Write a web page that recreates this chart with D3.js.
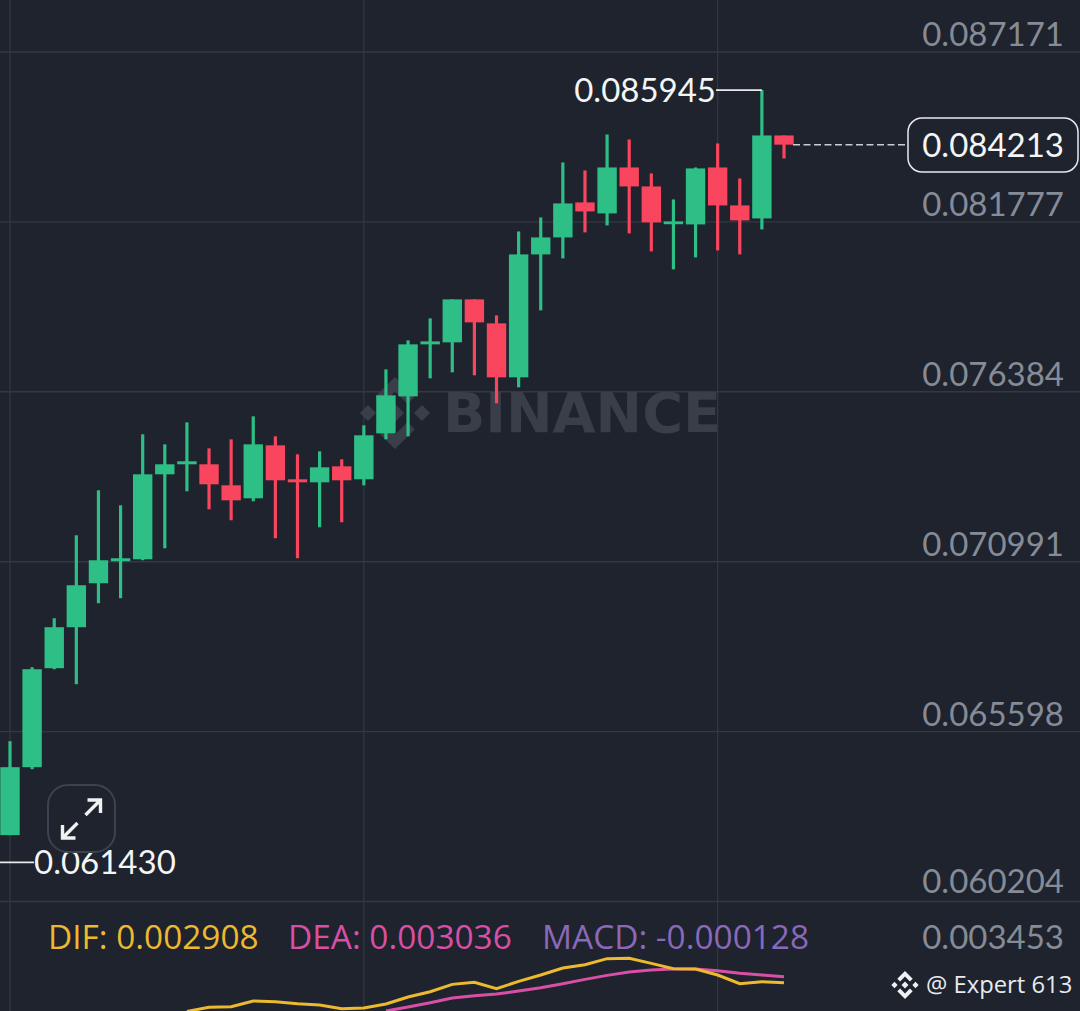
<!DOCTYPE html>
<html>
<head>
<meta charset="utf-8">
<script src="https://cdn.jsdelivr.net/npm/d3@7/dist/d3.min.js"></script>
<style>
	html, body { margin: 0; padding: 0; background: #1e232d; overflow: hidden; }
	svg { display: block; }
	text { font-family: "Lato", sans-serif; }
</style>
</head>
<body>
<svg id="chart" width="1080" height="1011"></svg>
<script>
// candles
const opens = [0.062295,0.064452,0.067594,0.068895,0.070291,0.070989,0.071052,0.073749,0.074067,0.074067,0.073400,0.072988,0.074669,0.073591,0.073495,0.074003,0.073591,0.075050,0.076224,0.077874,0.077938,0.079302,0.078541,0.076827,0.080730,0.081269,0.082380,0.082031,0.083490,0.082888,0.081714,0.081682,0.083490,0.082285,0.081872,0.084506];
const closes = [0.064452,0.067562,0.068895,0.070227,0.071021,0.071084,0.073749,0.074067,0.074162,0.073432,0.072924,0.074701,0.073559,0.073495,0.073971,0.073559,0.074987,0.076256,0.077874,0.077969,0.079302,0.078572,0.076827,0.080730,0.081269,0.082348,0.082094,0.083490,0.082888,0.081745,0.081777,0.083459,0.082285,0.081809,0.084506,0.084213];
const highs = [0.065277,0.067625,0.069180,0.071814,0.073242,0.072766,0.075019,0.074701,0.075399,0.074574,0.074860,0.075590,0.074955,0.074384,0.074479,0.074225,0.075304,0.077081,0.078001,0.078699,0.079302,0.079302,0.078794,0.081460,0.081904,0.083649,0.083395,0.084538,0.084379,0.083300,0.082475,0.083490,0.084252,0.083141,0.085945,0.084506];
const lows = [0.062295,0.064389,0.067562,0.067086,0.069656,0.069815,0.071021,0.071401,0.073210,0.072639,0.072290,0.072893,0.071719,0.071084,0.072068,0.072226,0.073400,0.074860,0.074955,0.076795,0.076986,0.076891,0.076002,0.076510,0.078953,0.080603,0.081428,0.081650,0.081396,0.080825,0.080254,0.080635,0.080857,0.080730,0.081523,0.083776];

// macd lines, dif starts at candle 8 and dea at candle 17
const difValues = [0.002297,0.002382,0.002396,0.002517,0.002503,0.002460,0.002432,0.002353,0.002368,0.002453,0.002602,0.002716,0.002872,0.002915,0.002780,0.002936,0.003072,0.003221,0.003292,0.003420,0.003427,0.003320,0.003207,0.003200,0.003072,0.002887,0.002929,0.002908];
const deaValues = [0.002304,0.002389,0.002481,0.002581,0.002631,0.002666,0.002730,0.002801,0.002887,0.002979,0.003064,0.003136,0.003178,0.003200,0.003200,0.003164,0.003107,0.003072,0.003036];

const priceTicks = [0.087171,0.081777,0.076384,0.070991,0.065598,0.060204];
const gridCandles = [0,16,32];
const lastPrice = 0.084213;
const highPrice = 0.085945;
const lowPrice = 0.061430;
const legendNames = ["DIF: 0.002908","DEA: 0.003036","MACD: -0.000128"];
const legendColors = ["#ecb92f","#d94fa6","#8a68ba"];
const legendX = [48,288,542];

const width = 1080, height = 1011;
const bg = "#1e232d", gridColor = "#333843", tickColor = "#858b97";
const up = "#2ebf86", down = "#f9455e";
const fmt = d3.format(".6f");
const priceSize = 33;

const svg = d3.select("#chart");
svg.append("rect").attr("width", width).attr("height", height).attr("fill", bg);

const x = d3.scaleLinear().domain([0, 35]).range([10, 784]);
const y = d3.scaleLinear().domain([0.087171, 0.060204]).range([51.5, 901]);
const yMacd = d3.scaleLinear().domain([0.002, 0.0035]).range([1025.3, 954.9]);

// grid
svg.append("g").selectAll("line")
	.data(gridCandles)
	.enter().append("line")
	.attr("x1", d => x(d)).attr("x2", d => x(d))
	.attr("y1", 0).attr("y2", height)
	.attr("stroke", gridColor).attr("stroke-width", 1.2);

const yAxis = d3.axisRight(y)
	.tickValues(priceTicks)
	.tickFormat(fmt)
	.tickSize(width);
const axisG = svg.append("g").call(yAxis);
axisG.select(".domain").remove();
axisG.selectAll(".tick line").attr("stroke", gridColor).attr("stroke-width", 1.4);
axisG.selectAll(".tick text")
	.attr("x", 1064).attr("dy", (d, i) => i === 5 ? -9 : -6)
	.attr("text-anchor", "end")
	.attr("fill", tickColor)
	.attr("font-size", priceSize)
	.style("font-family", "Lato, sans-serif");

// watermark, sits behind the candles
function binanceLogo(parent, cx, cy, s, color) {
	// s is half the width of the whole mark
	const u = s / 4;
	const diamonds = [[0, 0, 1], [-3, 0, 0.9], [3, 0, 0.9]];
	const g = parent.append("g").attr("transform", `translate(${cx},${cy})`).attr("fill", color);
	g.selectAll("path.d")
		.data(diamonds)
		.enter().append("path")
		.attr("d", d => `M${d[0]*u},${(d[1]-d[2])*u}L${(d[0]+d[2])*u},${d[1]*u}L${d[0]*u},${(d[1]+d[2])*u}L${(d[0]-d[2])*u},${d[1]*u}Z`);
	g.append("path").attr("d", `M0,${-4*u}L${2.2*u},${-1.8*u}L${1.4*u},${-1*u}L0,${-2.4*u}L${-1.4*u},${-1*u}L${-2.2*u},${-1.8*u}Z`);
	g.append("path").attr("d", `M0,${4*u}L${2.2*u},${1.8*u}L${1.4*u},${1*u}L0,${2.4*u}L${-1.4*u},${1*u}L${-2.2*u},${1.8*u}Z`);
}
binanceLogo(svg, 395, 413, 36, "#3a3e48");
svg.append("text")
	.attr("x", 443).attr("y", 432)
	.attr("font-size", 55.6).attr("font-weight", 700)
	.style("font-family", "'DejaVu Sans', sans-serif")
	.attr("fill", "#3a3e48")
	.text("BINANCE");

// candles
const candles = d3.range(opens.length);
const color = i => closes[i] >= opens[i] ? up : down;
const candleG = svg.append("g");
candleG.selectAll("line")
	.data(candles)
	.enter().append("line")
	.attr("x1", i => x(i)).attr("x2", i => x(i))
	.attr("y1", i => y(highs[i])).attr("y2", i => y(lows[i]))
	.attr("stroke", color).attr("stroke-width", 3.2);
candleG.selectAll("rect")
	.data(candles)
	.enter().append("rect")
	.attr("x", i => x(i) - 9.7)
	.attr("width", 19.4)
	.attr("y", i => y(Math.max(opens[i], closes[i])))
	.attr("height", i => Math.max(2.8, Math.abs(y(opens[i]) - y(closes[i]))))
	.attr("fill", color);

// high / low markers
svg.append("line")
	.attr("x1", 716).attr("x2", x(34))
	.attr("y1", y(highPrice)).attr("y2", y(highPrice))
	.attr("stroke", "#e8eaed").attr("stroke-width", 1.6);
svg.append("text")
	.attr("x", 716).attr("y", y(highPrice) + 12)
	.attr("text-anchor", "end")
	.attr("font-size", priceSize).attr("fill", "#f4f5f6")
	.text(fmt(highPrice));
svg.append("line")
	.attr("x1", 0).attr("x2", 34)
	.attr("y1", y(lowPrice)).attr("y2", y(lowPrice))
	.attr("stroke", "#e8eaed").attr("stroke-width", 1.6);
svg.append("text")
	.attr("x", 34).attr("y", y(lowPrice) + 12)
	.attr("font-size", priceSize).attr("fill", "#f4f5f6")
	.text(fmt(lowPrice));

// current price
svg.append("line")
	.attr("x1", 793).attr("x2", 908)
	.attr("y1", y(lastPrice)).attr("y2", y(lastPrice))
	.attr("stroke", "#c9ccd1").attr("stroke-width", 1.6)
	.attr("stroke-dasharray", "7,3.5");
svg.append("rect")
	.attr("x", 908).attr("y", 118)
	.attr("width", 170).attr("height", 54).attr("rx", 14)
	.attr("fill", bg).attr("stroke", "#e8eaed").attr("stroke-width", 1.5);
svg.append("text")
	.attr("x", 1064).attr("y", y(lastPrice) + 12)
	.attr("text-anchor", "end")
	.attr("font-size", priceSize).attr("fill", "#f4f5f6")
	.text(fmt(lastPrice));

// expand button
const btn = svg.append("g").attr("transform", "translate(82,819)");
btn.append("rect")
	.attr("x", -34).attr("y", -34).attr("width", 67).attr("height", 67).attr("rx", 20)
	.attr("fill", bg).attr("stroke", "#3c424e").attr("stroke-width", 2);
btn.append("path")
	.attr("d", "M4,-4L19,-19M6,-19H19V-6M-4,4L-19,19M-19,6V19H-6")
	.attr("transform", "translate(-0.5,0)")
	.attr("fill", "none").attr("stroke", "#f0f1f3").attr("stroke-width", 3.4);

// macd pane
svg.append("g").selectAll("text")
	.data(legendNames)
	.enter().append("text")
	.attr("x", (d, i) => legendX[i]).attr("y", 949)
	.attr("font-size", 33.4)
	.style("font-family", "'Open Sans', sans-serif")
	.attr("fill", (d, i) => legendColors[i])
	.text(d => d);
svg.append("text")
	.attr("x", 1064).attr("y", 949)
	.attr("text-anchor", "end")
	.attr("font-size", priceSize).attr("fill", tickColor)
	.text("0.003453");

const line = d3.line().x(d => x(d[0])).y(d => yMacd(d[1]));
svg.append("path")
	.attr("d", line(deaValues.map((v, i) => [i + 17, v])))
	.attr("fill", "none").attr("stroke", "#d94fa6").attr("stroke-width", 3);
svg.append("path")
	.attr("d", line(difValues.map((v, i) => [i + 8, v])))
	.attr("fill", "none").attr("stroke", "#ecb92f").attr("stroke-width", 3);

// user tag
binanceLogo(svg, 905, 985, 14, "#f0f1f3");
svg.append("text")
	.attr("x", 926).attr("y", 993)
	.attr("font-size", 23.8).attr("fill", "#e8eaed")
	.style("font-family", "'Open Sans', sans-serif")
	.text("@ Expert 613");
</script>
</body>
</html>
